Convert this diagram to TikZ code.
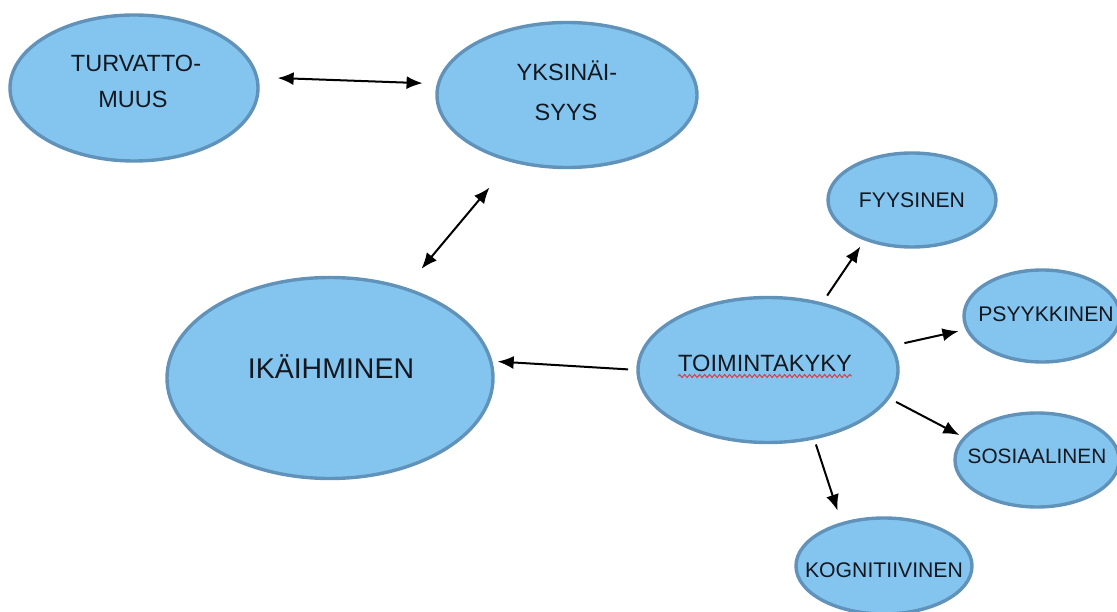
\documentclass[tikz,border=0pt]{standalone}
\usepackage{fontspec}
\setmainfont{Liberation Sans}
\usetikzlibrary{arrows.meta,decorations.pathmorphing,shapes.geometric}
\definecolor{fillc}{HTML}{83C5EF}
\definecolor{bordc}{HTML}{6193BA}
\definecolor{txtc}{HTML}{15171F}
\definecolor{wavyc}{HTML}{E03A44}
\tikzset{
  bubble/.style={ellipse, draw=bordc, line width=3.4pt, fill=fillc, inner sep=0pt, outer sep=0pt},
  lbl/.style={inner sep=0pt, anchor=base, text=txtc},
  fs/.style={font=\fontsize{#1}{#1}\selectfont},
  onearr/.style={line width=2pt, -{Latex[length=16pt,width=13pt]}},
  twoarr/.style={line width=2pt, {Latex[length=16pt,width=13pt]}-{Latex[length=16pt,width=13pt]}}
}
\begin{document}
\begin{tikzpicture}[x=1pt,y=-1pt]
\useasboundingbox (0,0) rectangle (1117,612);
% ellipses
\node[bubble, minimum width=248pt, minimum height=146pt] (turv) at (134,88) {};
\node[bubble, minimum width=260pt, minimum height=145pt] (yks) at (567,95) {};
\node[bubble, minimum width=326pt, minimum height=201pt] (ika) at (330,378) {};
\node[bubble, minimum width=260pt, minimum height=145pt] (toim) at (768,370) {};
\node[bubble, minimum width=168pt, minimum height=94pt] (fyys) at (912,200) {};
\node[bubble, minimum width=156pt, minimum height=92pt] (psyy) at (1042,316) {};
\node[bubble, minimum width=164pt, minimum height=94pt] (sos) at (1037,460) {};
\node[bubble, minimum width=176pt, minimum height=96pt] (kog) at (884,566) {};
% texts
\node[lbl, fs=23.5] (turv1) at (136,72) {TURVATTO-};
\node[lbl, fs=23.5] (turv2) at (133,108) {MUUS};
\node[lbl, fs=23.5] (yks1) at (567,81) {YKSINÄI-};
\node[lbl, fs=23.5] (yks2) at (566,121) {SYYS};
\node[lbl, fs=28.5] (ikat) at (331,378) {IKÄIHMINEN};
\node[lbl, fs=23.6] (toimt) at (765,372) {TOIMINTAKYKY};
\node[lbl, fs=21.2] (fyyst) at (912,208) {FYYSINEN};
\node[lbl, fs=21.2] (psyyt) at (1046,322) {PSYYKKINEN};
\node[lbl, fs=20.8] (sost) at (1037,463) {SOSIAALINEN};
\node[lbl, fs=21.2] (kogt) at (884,577) {KOGNITIIVINEN};
% wavy underline
\draw[wavyc, line width=1pt, decorate, decoration={snake, amplitude=1.5pt, segment length=5pt}]
  ([yshift=-4pt]toimt.base west) -- ([yshift=-4pt]toimt.base east);
% connectors
\draw[twoarr, shorten <=21pt, shorten >=16pt] (turv.5) -- (yks.175);
\draw[twoarr, shorten <=35pt, shorten >=26pt] (yks) -- (ika);
\draw[onearr, shorten <=10pt, shorten >=7pt] (toim.180) -- (ika.6);
\draw[onearr, shorten <=10pt, shorten >=9pt] (toim.51) -- (fyys.220);
\draw[onearr, shorten <=14pt, shorten >=9pt] (toim.11) -- (psyy.190);
\draw[onearr, shorten <=9pt, shorten >=6pt] (toim.-13) -- (sos.163);
\draw[onearr, shorten <=7pt, shorten >=14pt] (toim.-56) -- (kog.135);
\end{tikzpicture}
\end{document}
